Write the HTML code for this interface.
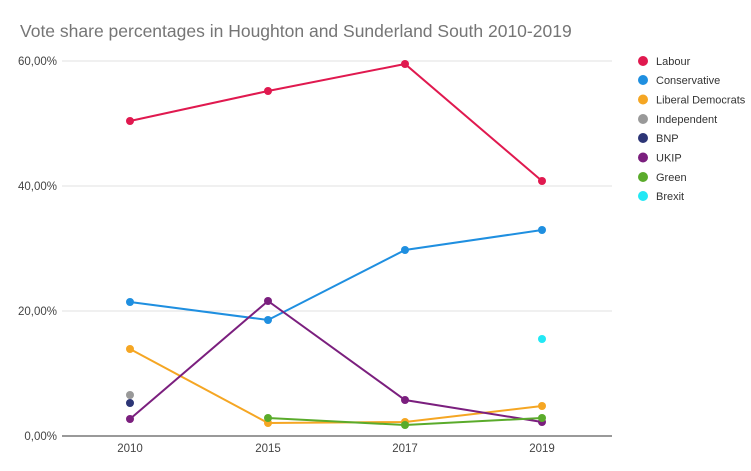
<!DOCTYPE html><html><head><style>body{margin:0;background:#fff}</style></head><body>
<svg width="751" height="466" xmlns="http://www.w3.org/2000/svg" font-family="Liberation Sans, sans-serif">
<text x="20" y="37" font-size="17.5" fill="#757575">Vote share percentages in Houghton and Sunderland South 2010-2019</text>
<g stroke="#e0e0e0" stroke-width="1">
<line x1="62" x2="612" y1="61" y2="61"/><line x1="62" x2="612" y1="186" y2="186"/><line x1="62" x2="612" y1="311" y2="311"/>
</g>
<line x1="62" x2="612" y1="436" y2="436" stroke="#999" stroke-width="2"/>
<g font-size="11.5" fill="#444" text-anchor="end">
<text x="57" y="65">60,00%</text><text x="57" y="190">40,00%</text><text x="57" y="315">20,00%</text><text x="57" y="440">0,00%</text>
</g>
<g font-size="11.5" fill="#444" text-anchor="middle">
<text x="130" y="452">2010</text><text x="268" y="452">2015</text><text x="405" y="452">2017</text><text x="542" y="452">2019</text>
</g>
<g fill="none" stroke-width="2">
<polyline points="130,121 268,91 405,64 542,181" stroke="#e0194f"/>
<polyline points="130,302 268,320 405,250 542,230" stroke="#1f8fe0"/>
<polyline points="130,349 268,423 405,422 542,406" stroke="#f5a623"/>
<polyline points="130,419 268,301 405,400 542,422" stroke="#7b1f7e"/>
<polyline points="268,418 405,425 542,418" stroke="#5aab2b"/>
</g>
<g>
<g fill="#e0194f"><circle cx="130" cy="121" r="4"/><circle cx="268" cy="91" r="4"/><circle cx="405" cy="64" r="4"/><circle cx="542" cy="181" r="4"/></g>
<g fill="#1f8fe0"><circle cx="130" cy="302" r="4"/><circle cx="268" cy="320" r="4"/><circle cx="405" cy="250" r="4"/><circle cx="542" cy="230" r="4"/></g>
<g fill="#f5a623"><circle cx="130" cy="349" r="4"/><circle cx="268" cy="423" r="4"/><circle cx="405" cy="422" r="4"/><circle cx="542" cy="406" r="4"/></g>
<g fill="#7b1f7e"><circle cx="130" cy="419" r="4"/><circle cx="268" cy="301" r="4"/><circle cx="405" cy="400" r="4"/><circle cx="542" cy="422" r="4"/></g>
<g fill="#5aab2b"><circle cx="268" cy="418" r="4"/><circle cx="405" cy="425" r="4"/><circle cx="542" cy="418" r="4"/></g>
<circle cx="130" cy="395" r="4" fill="#999"/>
<circle cx="130" cy="403" r="4" fill="#2c3576"/>
<circle cx="542" cy="339" r="4" fill="#22e8f5"/>
</g>
<g font-size="11" fill="#333">
<circle cx="643" cy="61" r="5" fill="#e0194f"/><text x="656" y="65">Labour</text>
<circle cx="643" cy="80" r="5" fill="#1f8fe0"/><text x="656" y="84">Conservative</text>
<circle cx="643" cy="99.5" r="5" fill="#f5a623"/><text x="656" y="103.5">Liberal Democrats</text>
<circle cx="643" cy="119" r="5" fill="#999"/><text x="656" y="123">Independent</text>
<circle cx="643" cy="138" r="5" fill="#2c3576"/><text x="656" y="142">BNP</text>
<circle cx="643" cy="157.5" r="5" fill="#7b1f7e"/><text x="656" y="161.5">UKIP</text>
<circle cx="643" cy="177" r="5" fill="#5aab2b"/><text x="656" y="181">Green</text>
<circle cx="643" cy="196" r="5" fill="#22e8f5"/><text x="656" y="200">Brexit</text>
</g>
</svg></body></html>
